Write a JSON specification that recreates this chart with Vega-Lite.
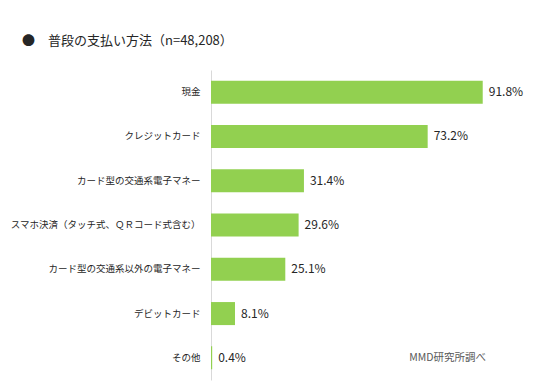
{
  "$schema": "https://vega.github.io/schema/vega-lite/v6.json",
  "width": 296,
  "height": 310,
  "autosize": {"type": "none"},
  "padding": {"left": 211, "top": 70, "right": 43, "bottom": 9},
  "background": "white",
  "title": {
    "text": "●　普段の支払い方法（n=48,208）",
    "anchor": "start",
    "frame": "group",
    "dx": -189,
    "offset": 22,
    "font": "Noto Sans CJK JP",
    "fontSize": 13,
    "fontWeight": "normal",
    "color": "#262626"
  },
  "config": {
    "view": {"stroke": null},
    "font": "Noto Sans CJK JP"
  },
  "data": {
    "values": [
      {"method": "現金", "pct": 91.8, "label": "91.8%"},
      {"method": "クレジットカード", "pct": 73.2, "label": "73.2%"},
      {"method": "カード型の交通系電子マネー", "pct": 31.4, "label": "31.4%"},
      {"method": "スマホ決済（タッチ式、ＱＲコード式含む）", "pct": 29.6, "label": "29.6%"},
      {"method": "カード型の交通系以外の電子マネー", "pct": 25.1, "label": "25.1%"},
      {"method": "デビットカード", "pct": 8.1, "label": "8.1%"},
      {"method": "その他", "pct": 0.4, "label": "0.4%"}
    ]
  },
  "encoding": {
    "y": {
      "field": "method",
      "type": "nominal",
      "sort": null,
      "scale": {"paddingInner": 0.48, "paddingOuter": 0.24},
      "axis": {
        "title": null,
        "ticks": false,
        "labelPadding": 11,
        "labelFontSize": 9.5,
        "labelColor": "#262626",
        "labelFont": "Noto Sans CJK JP",
        "domainColor": "#D9D9D9",
        "domainWidth": 1,
        "labelLimit": 250
      }
    }
  },
  "layer": [
    {
      "mark": {"type": "bar", "color": "#92D050"},
      "encoding": {
        "x": {
          "field": "pct",
          "type": "quantitative",
          "scale": {"domain": [0, 100], "nice": false},
          "axis": null
        }
      }
    },
    {
      "mark": {"type": "text", "align": "left", "dx": 6, "fontSize": 12, "color": "#262626", "font": "Noto Sans CJK JP"},
      "encoding": {
        "x": {"field": "pct", "type": "quantitative"},
        "text": {"field": "label", "type": "nominal"}
      }
    },
    {
      "data": {"values": [{"note": "MMD研究所調べ"}]},
      "mark": {"type": "text", "align": "left", "fontSize": 10.5, "color": "#595959", "font": "Noto Sans CJK JP"},
      "encoding": {
        "x": {"datum": 67},
        "y": {"datum": "その他"},
        "text": {"field": "note", "type": "nominal"}
      }
    }
  ]
}
